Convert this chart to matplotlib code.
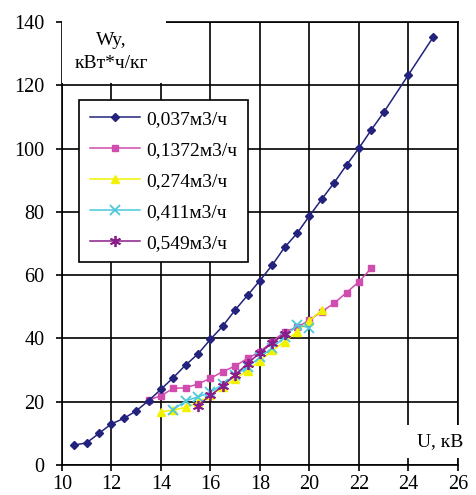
import matplotlib
matplotlib.use('Agg')
import matplotlib.pyplot as plt
from matplotlib.patches import Rectangle

plt.rcParams['font.family'] = ['Liberation Serif', 'DejaVu Serif']

# series: U (kV) vs specific energy Wy (kWh/kg)
u_037 = [10.5, 11, 11.5, 12, 12.5, 13, 13.5, 14, 14.5, 15, 15.5, 16, 16.5, 17, 17.5,
         18, 18.5, 19, 19.5, 20, 20.5, 21, 21.5, 22, 22.5, 23, 24, 25]
w_037 = [6.3, 7.0, 10.0, 13.0, 14.7, 17.1, 20.3, 23.9, 27.6, 31.6, 35.1, 39.7, 43.9, 49.0, 53.6,
         58.3, 63.2, 68.8, 73.2, 78.7, 84.0, 89.2, 94.8, 100.1, 105.9, 111.4, 123.3, 135.2]

u_1372 = [13.5, 14, 14.5, 15, 15.5, 16, 16.5, 17, 17.5, 18, 18.5, 19, 19.5, 20, 20.5,
          21, 21.5, 22, 22.5]
w_1372 = [20.5, 21.9, 24.2, 24.4, 25.6, 27.4, 29.5, 31.3, 33.7, 35.8, 39.0, 42.1, 43.5, 45.8, 48.5,
          51.1, 54.5, 57.9, 62.2]

u_274 = [14, 14.5, 15, 15.5, 16, 16.5, 17, 17.5, 18, 18.5, 19, 19.5, 20, 20.5]
w_274 = [16.8, 17.4, 18.2, 19.8, 22.0, 24.5, 27.2, 29.8, 33.0, 36.2, 39.0, 42.1, 45.6, 49.0]

u_411 = [14.5, 15, 15.5, 16, 16.5, 17, 17.5, 18, 18.5, 19, 19.5, 20]
w_411 = [17.5, 20.3, 21.5, 23.0, 25.5, 28.5, 31.0, 34.0, 37.0, 40.5, 44.3, 43.4]

u_549 = [15.5, 16, 16.5, 17, 17.5, 18, 18.5, 19]
w_549 = [18.8, 22.0, 25.0, 28.5, 32.0, 35.5, 38.5, 41.5]

labels = ['0,037м3/ч', '0,1372м3/ч', '0,274м3/ч', '0,411м3/ч', '0,549м3/ч']

fig = plt.figure(figsize=(4.76, 4.95), dpi=100)
ax = fig.add_axes([0.130, 0.0606, 0.832, 0.895])

ax.plot(u_037, w_037, color='#23237d', marker='D', ms=4.5, lw=1.1, label=labels[0], zorder=6)
ax.plot(u_1372, w_1372, color='#d04cae', marker='s', ms=5, lw=1.1, label=labels[1], zorder=5)
ax.plot(u_274, w_274, color='#f2f200', marker='^', ms=6, lw=1.1, label=labels[2], zorder=5)
ax.plot(u_411, w_411, color='#4cc8dc', marker='x', ms=7, mew=1.3, lw=1.1, label=labels[3], zorder=5)
ax.plot(u_549, w_549, color='#8a1c8c', marker=(6, 2, 0), ms=8, mew=1.3, lw=1.1, label=labels[4], zorder=5)

ax.set_xlim(10, 26)
ax.set_ylim(0, 140)
ax.set_xticks(range(10, 27, 2))
ax.set_yticks(range(0, 141, 20))
ax.set_axisbelow(True)
ax.grid(True, color='black', lw=1.2)
for s in ax.spines.values():
    s.set_linewidth(1.2)
ax.tick_params(direction='out', length=4.5, width=1.2, labelsize=14.5)
ax.tick_params(axis='y', pad=8)
ax.tick_params(axis='x', pad=2.5)

# white boxes under the axis titles (they hide the grid)
ax.add_patch(Rectangle((10, 120.6), 4.2, 22, facecolor='white', edgecolor='none',
                       zorder=3, clip_on=False))
ax.text(12.0, 130.6, 'Wy,\nкВт*ч/кг', ha='center', va='center', fontsize=14,
        linespacing=1.45, zorder=4)
ax.add_patch(Rectangle((23.9, 2.3), 2.5, 10.3, facecolor='white', edgecolor='none',
                       zorder=3, clip_on=False))
ax.text(25.3, 7.4, 'U, кВ', ha='center', va='center', fontsize=14, zorder=4)

leg = ax.legend(loc='upper left', bbox_to_anchor=(0.166, 0.798), bbox_transform=fig.transFigure,
                borderaxespad=0, fontsize=14, fancybox=False, framealpha=1, edgecolor='black',
                handlelength=2.6, handletextpad=0.3, labelspacing=0.68, borderpad=0.55)
leg.get_frame().set_linewidth(1.2)
leg.set_zorder(7)

fig.savefig('out.png', dpi=100)
